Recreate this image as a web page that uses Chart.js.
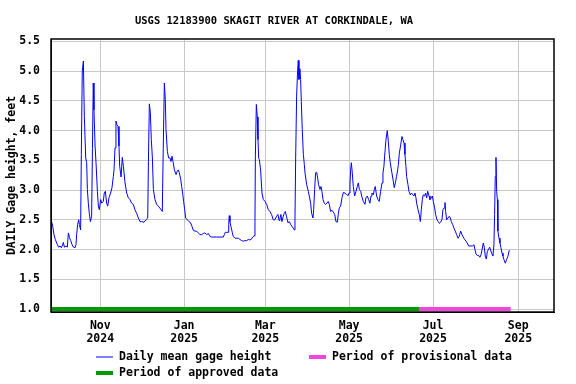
<!DOCTYPE html>
<html>
<head>
<meta charset="utf-8">
<script src="https://cdn.jsdelivr.net/npm/chart.js@4.4.1/dist/chart.umd.min.js"></script>
<style>
  html, body { margin: 0; padding: 0; background: #fff; }
  #wrap { width: 576px; height: 384px; }
</style>
</head>
<body>
<div id="wrap"><canvas id="gage" width="576" height="384"></canvas></div>
<script>
// day 0 = 2024-10-01
const days = [
  -4.4, -3.6, -2.7, -1.7, -0.2, 0.7, 1.7, 2.7, 3.6, 4.1, 4.9, 6.1, 7.0, 7.8, 8.6, 9.5, 10.5, 11.5, 12.6, 13.3,
  13.8, 14.5, 15.3, 15.8, 16.7, 17.2, 17.9, 18.7, 19.4, 20.4, 21.1, 21.6, 22.3, 23.0, 23.8, 24.7, 25.3, 25.9, 26.4, 27.2,
  27.9, 28.9, 29.6, 30.3, 31.3, 32.0, 33.2, 33.9, 34.7, 35.6, 36.4, 37.3, 38.5, 39.5, 40.5, 41.0, 41.7, 42.4, 43.1, 43.9,
  44.6, 45.1, 46.1, 47.0, 47.8, 49.0, 50.2, 51.4, 52.6, 53.8, 55.0, 56.2, 57.4, 58.7, 59.9, 61.1, 62.8, 64.2, 65.5, 66.0,
  66.7, 67.4, 68.1, 68.9, 69.6, 70.8, 72.0, 73.2, 74.9, 76.1, 76.8, 77.6, 78.3, 78.8, 79.8, 80.7, 81.7, 82.4, 83.2, 83.9,
  84.9, 86.1, 87.0, 87.8, 88.5, 89.5, 90.2, 90.9, 91.6, 92.4, 93.1, 94.3, 95.5, 96.7, 97.7, 98.7, 99.9, 101.1, 102.3, 103.5,
  104.7, 105.9, 107.1, 108.4, 109.6, 110.8, 112.0, 115.6, 120.5, 121.2, 121.9, 123.9, 124.4, 124.8, 125.3, 126.0, 127.0, 127.7, 129.0, 130.2,
  131.4, 132.6, 133.8, 135.0, 136.2, 137.5, 138.7, 139.9, 141.1, 141.8, 142.8, 143.5, 143.8, 144.5, 145.2, 145.7, 146.2, 146.7, 147.6, 148.6,
  149.6, 150.8, 152.0, 153.2, 154.4, 155.6, 156.8, 158.0, 159.3, 160.2, 161.0, 161.7, 162.4, 163.1, 164.1, 164.8, 165.6, 166.5, 167.5, 168.5,
  169.5, 170.4, 171.4, 172.1, 172.6, 173.1, 173.8, 174.5, 175.0, 175.5, 176.2, 176.7, 177.2, 177.9, 178.7, 179.4, 179.9, 181.1, 182.3, 183.0,
  184.0, 184.7, 185.7, 186.2, 186.9, 187.6, 188.4, 189.1, 189.8, 190.8, 191.5, 192.2, 193.0, 193.9, 194.9, 195.9, 196.8, 197.6, 198.5, 199.5,
  200.5, 201.5, 202.4, 203.4, 204.1, 204.8, 205.8, 206.8, 207.8, 209.0, 210.2, 211.4, 211.9, 212.6, 213.1, 213.6, 214.3, 215.0, 216.0, 217.0,
  217.9, 218.7, 219.4, 220.4, 221.1, 222.3, 223.5, 224.2, 225.2, 226.2, 227.1, 227.9, 228.6, 229.6, 230.3, 231.0, 232.0, 233.0, 233.9, 234.9,
  235.9, 236.6, 237.3, 237.8, 238.8, 239.7, 240.5, 241.2, 241.9, 243.1, 244.1, 244.8, 245.6, 246.5, 247.3, 247.8, 248.5, 249.5, 250.4, 251.1,
  251.9, 252.6, 253.3, 253.8, 254.8, 255.5, 256.5, 257.4, 258.4, 259.1, 259.9, 260.6, 261.1, 262.1, 263.0, 263.8, 264.5, 265.2, 265.9, 266.9,
  267.6, 268.4, 269.1, 270.1, 270.8, 271.8, 272.5, 273.2, 274.2, 274.9, 275.9, 276.8, 277.6, 278.5, 279.5, 280.2, 281.0, 281.7, 282.2, 282.9,
  283.9, 284.9, 285.6, 286.3, 287.3, 288.2, 289.2, 290.2, 291.2, 292.1, 293.1, 294.1, 295.0, 296.0, 297.0, 297.9, 298.9, 301.8, 302.8, 303.5,
  304.2, 305.2, 306.2, 307.1, 307.9, 308.6, 309.6, 310.3, 311.0, 311.8, 312.5, 313.5, 314.2, 314.9, 315.6, 316.6, 317.3, 317.8, 318.3, 318.8,
  319.3, 319.8, 320.2, 321.0, 321.7, 322.4, 323.2, 323.9, 324.6, 325.6, 326.5, 327.5, 328.5
];
const heights = [
  2.47, 2.39, 2.25, 2.17, 2.08, 2.04, 2.06, 2.03, 2.08, 2.12, 2.04, 2.06, 2.04, 2.28, 2.20, 2.15, 2.08, 2.04, 2.03, 2.08,
  2.25, 2.42, 2.50, 2.42, 2.33, 3.60, 5.00, 5.17, 4.24, 3.54, 3.46, 3.01, 2.78, 2.61, 2.47, 2.56, 3.70, 4.80, 4.35, 3.74,
  3.46, 2.98, 2.73, 2.67, 2.84, 2.78, 2.81, 2.95, 2.98, 2.78, 2.73, 2.87, 2.95, 3.04, 3.23, 3.34, 3.71, 4.16, 4.10, 4.07,
  3.74, 3.40, 3.22, 3.55, 3.40, 3.12, 2.95, 2.87, 2.84, 2.78, 2.76, 2.67, 2.61, 2.53, 2.47, 2.47, 2.46, 2.50, 2.53, 3.48,
  4.45, 4.30, 3.85, 3.54, 3.01, 2.84, 2.76, 2.73, 2.68, 2.64, 3.70, 4.80, 4.52, 4.02, 3.65, 3.54, 3.54, 3.48, 3.57, 3.48,
  3.34, 3.26, 3.32, 3.34, 3.29, 3.18, 3.06, 2.95, 2.81, 2.67, 2.53, 2.50, 2.47, 2.45, 2.39, 2.32, 2.31, 2.31, 2.28, 2.25,
  2.25, 2.27, 2.28, 2.25, 2.27, 2.22, 2.21, 2.21, 2.21, 2.25, 2.29, 2.29, 2.42, 2.57, 2.47, 2.39, 2.29, 2.22, 2.19, 2.19,
  2.19, 2.17, 2.15, 2.14, 2.15, 2.15, 2.17, 2.16, 2.18, 2.21, 2.23, 2.45, 3.57, 4.44, 4.23, 3.85, 3.54, 3.51, 3.34, 2.95,
  2.84, 2.81, 2.76, 2.67, 2.64, 2.59, 2.50, 2.50, 2.56, 2.59, 2.49, 2.53, 2.59, 2.47, 2.56, 2.61, 2.64, 2.55, 2.45, 2.47,
  2.42, 2.39, 2.36, 2.33, 2.50, 3.54, 4.58, 5.00, 5.18, 4.86, 5.04, 4.86, 4.49, 4.02, 3.60, 3.43, 3.29, 3.09, 2.98, 2.90,
  2.78, 2.61, 2.53, 2.67, 3.01, 3.29, 3.30, 3.20, 3.09, 3.01, 3.06, 2.98, 2.84, 2.78, 2.76, 2.78, 2.81, 2.76, 2.64, 2.66,
  2.63, 2.59, 2.47, 2.46, 2.59, 2.70, 2.73, 2.87, 2.96, 2.95, 2.92, 2.91, 2.95, 3.09, 3.34, 3.46, 3.29, 3.06, 2.90, 2.98,
  3.06, 3.12, 3.01, 2.98, 2.90, 2.81, 2.76, 2.87, 2.90, 2.84, 2.78, 2.90, 2.95, 2.92, 3.01, 3.06, 2.90, 2.84, 2.81, 2.98,
  3.12, 3.29, 3.40, 3.57, 3.85, 4.00, 3.82, 3.60, 3.46, 3.29, 3.15, 3.04, 3.12, 3.23, 3.34, 3.43, 3.62, 3.76, 3.90, 3.85,
  3.79, 3.60, 3.40, 3.23, 3.09, 2.98, 2.92, 2.95, 2.92, 2.90, 2.95, 2.87, 2.78, 2.67, 2.59, 2.47, 2.67, 2.84, 2.92, 2.90,
  2.95, 2.87, 2.98, 2.90, 2.84, 2.87, 2.90, 2.81, 2.70, 2.59, 2.50, 2.47, 2.44, 2.46, 2.50, 2.67, 2.70, 2.79, 2.64, 2.50,
  2.53, 2.56, 2.53, 2.47, 2.42, 2.36, 2.31, 2.25, 2.19, 2.22, 2.31, 2.25, 2.21, 2.17, 2.14, 2.11, 2.06, 2.06, 2.08, 2.00,
  1.93, 1.90, 1.90, 1.87, 1.91, 1.99, 2.11, 2.04, 1.89, 1.84, 1.97, 2.01, 2.04, 1.99, 1.94, 1.89, 2.08, 2.59, 3.23, 3.55,
  2.98, 2.84, 2.31, 2.19, 2.11, 2.03, 1.94, 1.89, 1.83, 1.77, 1.83, 1.89, 1.99
];
const approvedSpan = [-5.5, 262.8];
const provisionalSpan = [262.8, 329.5];
const tickDays = [31, 92, 151, 212, 273, 335];
const tickLabels = [["Nov", "2024"], ["Jan", "2025"], ["Mar", "2025"], ["May", "2025"], ["Jul", "2025"], ["Sep", "2025"]];
const yTicks = [1.0, 1.5, 2.0, 2.5, 3.0, 3.5, 4.0, 4.5, 5.0, 5.5];

const MONO = "'DejaVu Sans Mono', 'Liberation Mono', monospace";
const BLUE = "#0000ff";
const GREEN = "#009a00";
const PINK = "#f046dc";

const gageData = days.map((d, i) => ({ x: d, y: heights[i] }));

// box around the plot area
const frame = {
  id: "frame",
  afterDatasetsDraw(chart) {
    const { ctx, chartArea: a } = chart;
    ctx.save();
    ctx.strokeStyle = "#000";
    ctx.lineWidth = 1.5;
    ctx.strokeRect(a.left, a.top, a.right - a.left, a.bottom - a.top);
    ctx.restore();
  },
};

const legendTitle = {
  id: "legendTitle",
  afterDraw(chart) {
    const ctx = chart.ctx;
    ctx.save();
    ctx.fillStyle = "#000";
    ctx.textBaseline = "middle";
    ctx.font = "bold 10.5px " + MONO;
    ctx.textAlign = "center";
    ctx.fillText("USGS 12183900 SKAGIT RIVER AT CORKINDALE, WA", 274, 21);

    ctx.font = "bold 11.5px " + MONO;
    ctx.textAlign = "left";
    const items = [
      { ds: 0, x: 96, y: 357 },
      { ds: 2, x: 309, y: 357 },
      { ds: 1, x: 96, y: 373 },
    ];
    items.forEach((it) => {
      const ds = chart.data.datasets[it.ds];
      ctx.strokeStyle = ds.borderColor;
      ctx.lineWidth = ds.borderWidth;
      ctx.beginPath();
      ctx.moveTo(it.x, it.y);
      ctx.lineTo(it.x + 17, it.y);
      ctx.stroke();
      ctx.fillStyle = "#000";
      ctx.fillText(ds.label, it.x + 23, it.y);
    });
    ctx.restore();
  },
};

new Chart(document.getElementById("gage"), {
  type: "line",
  data: {
    datasets: [
      {
        label: "Daily mean gage height",
        data: gageData,
        borderColor: BLUE,
        borderWidth: 1,
        pointRadius: 0,
        tension: 0,
      },
      {
        label: "Period of approved data",
        data: approvedSpan.map((d) => ({ x: d, y: 1.0 })),
        borderColor: GREEN,
        borderWidth: 4,
        pointRadius: 0,
      },
      {
        label: "Period of provisional data",
        data: provisionalSpan.map((d) => ({ x: d, y: 1.0 })),
        borderColor: PINK,
        borderWidth: 4,
        pointRadius: 0,
      },
    ],
  },
  options: {
    responsive: false,
    animation: false,
    layout: { padding: { left: 0, right: 22, top: 39, bottom: 0 } },
    plugins: { legend: { display: false }, title: { display: false }, tooltip: { enabled: false } },
    scales: {
      x: {
        type: "linear",
        min: -4.85,
        max: 361,
        afterBuildTicks: (s) => { s.ticks = tickDays.map((v) => ({ value: v })); },
        afterFit: (s) => { s.height = 72; },
        grid: { color: "#c8c8c8", drawTicks: false },
        border: { color: "#000", width: 1 },
        ticks: {
          padding: 7,
          color: "#000",
          maxRotation: 0,
          autoSkip: false,
          font: { family: MONO, size: 11.5, weight: "bold", lineHeight: 1.16 },
          callback: (v) => tickLabels[tickDays.indexOf(v)] || "",
        },
      },
      y: {
        min: 0.95,
        max: 5.54,
        afterBuildTicks: (s) => { s.ticks = yTicks.map((v) => ({ value: v })); },
        afterFit: (s) => { s.width = 51; },
        grid: { color: "#c8c8c8", drawTicks: false },
        border: { color: "#000", width: 1 },
        ticks: {
          padding: 11,
          color: "#000",
          font: { family: MONO, size: 11.5, weight: "bold" },
          callback: (v) => v.toFixed(1),
        },
        title: {
          display: true,
          text: "DAILY Gage height, feet",
          color: "#000",
          padding: { top: 5, bottom: 0 },
          font: { family: MONO, size: 11.5, weight: "bold" },
        },
      },
    },
  },
  plugins: [frame, legendTitle],
});
</script>
</body>
</html>
